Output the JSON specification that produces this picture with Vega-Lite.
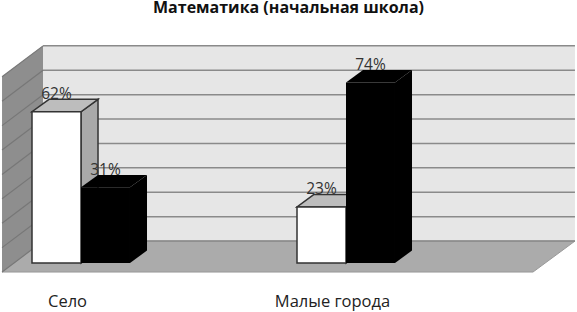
{
"$schema":"https://vega.github.io/schema/vega-lite/v6.json",
"autosize":"none","padding":{"left":0,"right":0,"top":20,"bottom":0},
"width":577,"height":292,"background":"white",
"title":{"text":"Математика (начальная школа)","font":"Open Sans","fontSize":16,"fontWeight":"bold","color":"#111","baseline":"alphabetic","offset":-9,"anchor":"middle","frame":"group"},
"config":{"view":{"stroke":null}},
"datasets":{
"bars":[
{"group":"Село","series":"Ряд 1","value":62},
{"group":"Село","series":"Ряд 2","value":31},
{"group":"Малые города","series":"Ряд 1","value":23},
{"group":"Малые города","series":"Ряд 2","value":74}],
"ticks":[{"tick":0},{"tick":10},{"tick":20},{"tick":30},{"tick":40},{"tick":50},{"tick":60},{"tick":70},{"tick":80}],
"depth":[{"d":0},{"d":1}]
},
"layer":[
{"data":{"name":"depth"},
 "transform":[{"calculate":"-0.298+datum.d*0.1548","as":"xs"},{"calculate":"-3.7+datum.d*12.7","as":"lo"},{"calculate":"datum.lo+80","as":"hi"}],
 "mark":{"type":"area","orient":"vertical","color":"#8e8e8e"},
 "encoding":{"x":{"field":"xs","type":"quantitative","scale":{"domain":[-0.30566,1.8717],"nice":false,"zero":false},
   "axis":{"values":[0,1],"labelExpr":"datum.value==0?'Село':'Малые города'","offset":-19,"domain":false,"ticks":false,"grid":false,"title":null,"labelPadding":0,"labelOffset":-14,"labelFont":"Open Sans","labelFontSize":16.5,"labelColor":"#222","labelOverlap":false,"labelFlush":false,"labelBound":false}},
  "y":{"field":"lo","type":"quantitative","stack":null,"scale":{"domain":[-20.08,99.6],"nice":false,"zero":false},"axis":null},
  "y2":{"field":"hi"}}},
{"data":{"name":"depth"},
 "transform":[{"calculate":"-0.1434+datum.d*2.0074","as":"xs"}],
 "mark":{"type":"area","orient":"vertical","color":"#e6e6e6"},
 "encoding":{"x":{"field":"xs","type":"quantitative"},"y":{"datum":9,"type":"quantitative"},"y2":{"datum":89}}},
{"data":{"name":"depth"},
 "transform":[{"calculate":"-3.7+datum.d*12.7","as":"yy"},{"calculate":"-0.298+datum.d*0.1548","as":"a"},{"calculate":"1.7057+datum.d*0.1585","as":"b"}],
 "mark":{"type":"area","orient":"horizontal","color":"#ababab","stroke":"#999999","strokeWidth":1},
 "encoding":{"y":{"field":"yy","type":"quantitative"},"x":{"field":"a","type":"quantitative"},"x2":{"field":"b"}}},
{"data":{"name":"ticks"},
 "transform":[{"calculate":"datum.tick+9","as":"yy"}],
 "mark":{"type":"rule","color":"#8a8a8a","strokeWidth":1.5},
 "encoding":{"y":{"field":"yy","type":"quantitative"},"x":{"datum":-0.1434,"type":"quantitative"},"x2":{"datum":1.864}}},
{"data":{"name":"ticks"},
 "transform":[{"calculate":"[0,1]","as":"d"},{"flatten":["d"]},{"calculate":"-0.298+datum.d*0.1548","as":"xs"},{"calculate":"datum.tick-3.7+datum.d*12.7","as":"yy"}],
 "mark":{"type":"line","color":"#777777","strokeWidth":1.2},
 "encoding":{"x":{"field":"xs","type":"quantitative"},"y":{"field":"yy","type":"quantitative"},"detail":{"field":"tick"}}},
{"data":{"name":"bars"},
 "transform":[{"filter":"datum.series=='Ряд 1'"},{"calculate":"datum.group=='Село'?0:1","as":"g"},{"calculate":"[0,1]","as":"d"},{"flatten":["d"]},{"calculate":"datum.g+datum.d*0.0642","as":"xs"},{"calculate":"datum.value+datum.d*5.1","as":"hi"},{"calculate":"datum.d*5.1","as":"lo"}],
 "mark":{"type":"area","orient":"vertical","color":"#a9a9a9","stroke":"#333333","strokeWidth":1.5},
 "encoding":{"x":{"field":"xs","type":"quantitative"},"y":{"field":"hi","type":"quantitative","stack":null},"y2":{"field":"lo"},"detail":{"field":"group"}}},
{"data":{"name":"bars"},
 "transform":[{"filter":"datum.series=='Ряд 1'"},{"calculate":"datum.group=='Село'?0:1","as":"g"},{"calculate":"[0,1]","as":"d"},{"flatten":["d"]},{"calculate":"datum.g-0.1849+datum.d*0.0642","as":"a"},{"calculate":"datum.g+datum.d*0.0642","as":"b"},{"calculate":"datum.value+datum.d*5.1","as":"yy"}],
 "mark":{"type":"area","orient":"horizontal","color":"#bdbdbd","stroke":"#333333","strokeWidth":1.5},
 "encoding":{"y":{"field":"yy","type":"quantitative"},"x":{"field":"a","type":"quantitative"},"x2":{"field":"b"},"detail":{"field":"group"}}},
{"data":{"name":"bars"},
 "transform":[{"filter":"datum.series=='Ряд 1'"},{"calculate":"datum.group=='Село'?0:1","as":"g"},{"calculate":"datum.g-0.1849","as":"a"}],
 "mark":{"type":"rect","color":"#ffffff","stroke":"#333333","strokeWidth":1.5},
 "encoding":{"x":{"field":"a","type":"quantitative"},"x2":{"field":"g"},"y":{"field":"value","type":"quantitative"},"y2":{"datum":0}}},
{"data":{"name":"bars"},
 "transform":[{"filter":"datum.series=='Ряд 2'"},{"calculate":"datum.group=='Село'?0:1","as":"g"},{"calculate":"[0,1]","as":"d"},{"flatten":["d"]},{"calculate":"datum.g+0.1849+datum.d*0.0642","as":"xs"},{"calculate":"datum.value+datum.d*5.1","as":"hi"},{"calculate":"datum.d*5.1","as":"lo"}],
 "mark":{"type":"area","orient":"vertical","color":"#000000"},
 "encoding":{"x":{"field":"xs","type":"quantitative"},"y":{"field":"hi","type":"quantitative","stack":null},"y2":{"field":"lo"},"detail":{"field":"group"}}},
{"data":{"name":"bars"},
 "transform":[{"filter":"datum.series=='Ряд 2'"},{"calculate":"datum.group=='Село'?0:1","as":"g"},{"calculate":"[0,1]","as":"d"},{"flatten":["d"]},{"calculate":"datum.g+datum.d*0.0642","as":"a"},{"calculate":"datum.g+0.1849+datum.d*0.0642","as":"b"},{"calculate":"datum.value+datum.d*5.1","as":"yy"}],
 "mark":{"type":"area","orient":"horizontal","color":"#000000"},
 "encoding":{"y":{"field":"yy","type":"quantitative"},"x":{"field":"a","type":"quantitative"},"x2":{"field":"b"},"detail":{"field":"group"}}},
{"data":{"name":"bars"},
 "transform":[{"filter":"datum.series=='Ряд 2'"},{"calculate":"datum.group=='Село'?0:1","as":"g"},{"calculate":"datum.g+0.1849","as":"b"}],
 "mark":{"type":"rect","color":"#000000"},
 "encoding":{"x":{"field":"g","type":"quantitative"},"x2":{"field":"b"},"y":{"field":"value","type":"quantitative"},"y2":{"datum":0}}},
{"data":{"name":"bars"},
 "transform":[{"calculate":"(datum.group=='Село'?0:1)+(datum.series=='Ряд 1'?-0.0925:0.0925)","as":"c"},{"calculate":"datum.value+'%'","as":"label"}],
 "mark":{"type":"text","font":"Open Sans","fontSize":15.5,"color":"#333333","baseline":"alphabetic","dy":-12.5},
 "encoding":{"x":{"field":"c","type":"quantitative"},"y":{"field":"value","type":"quantitative"},"text":{"field":"label"}}}
]
}
